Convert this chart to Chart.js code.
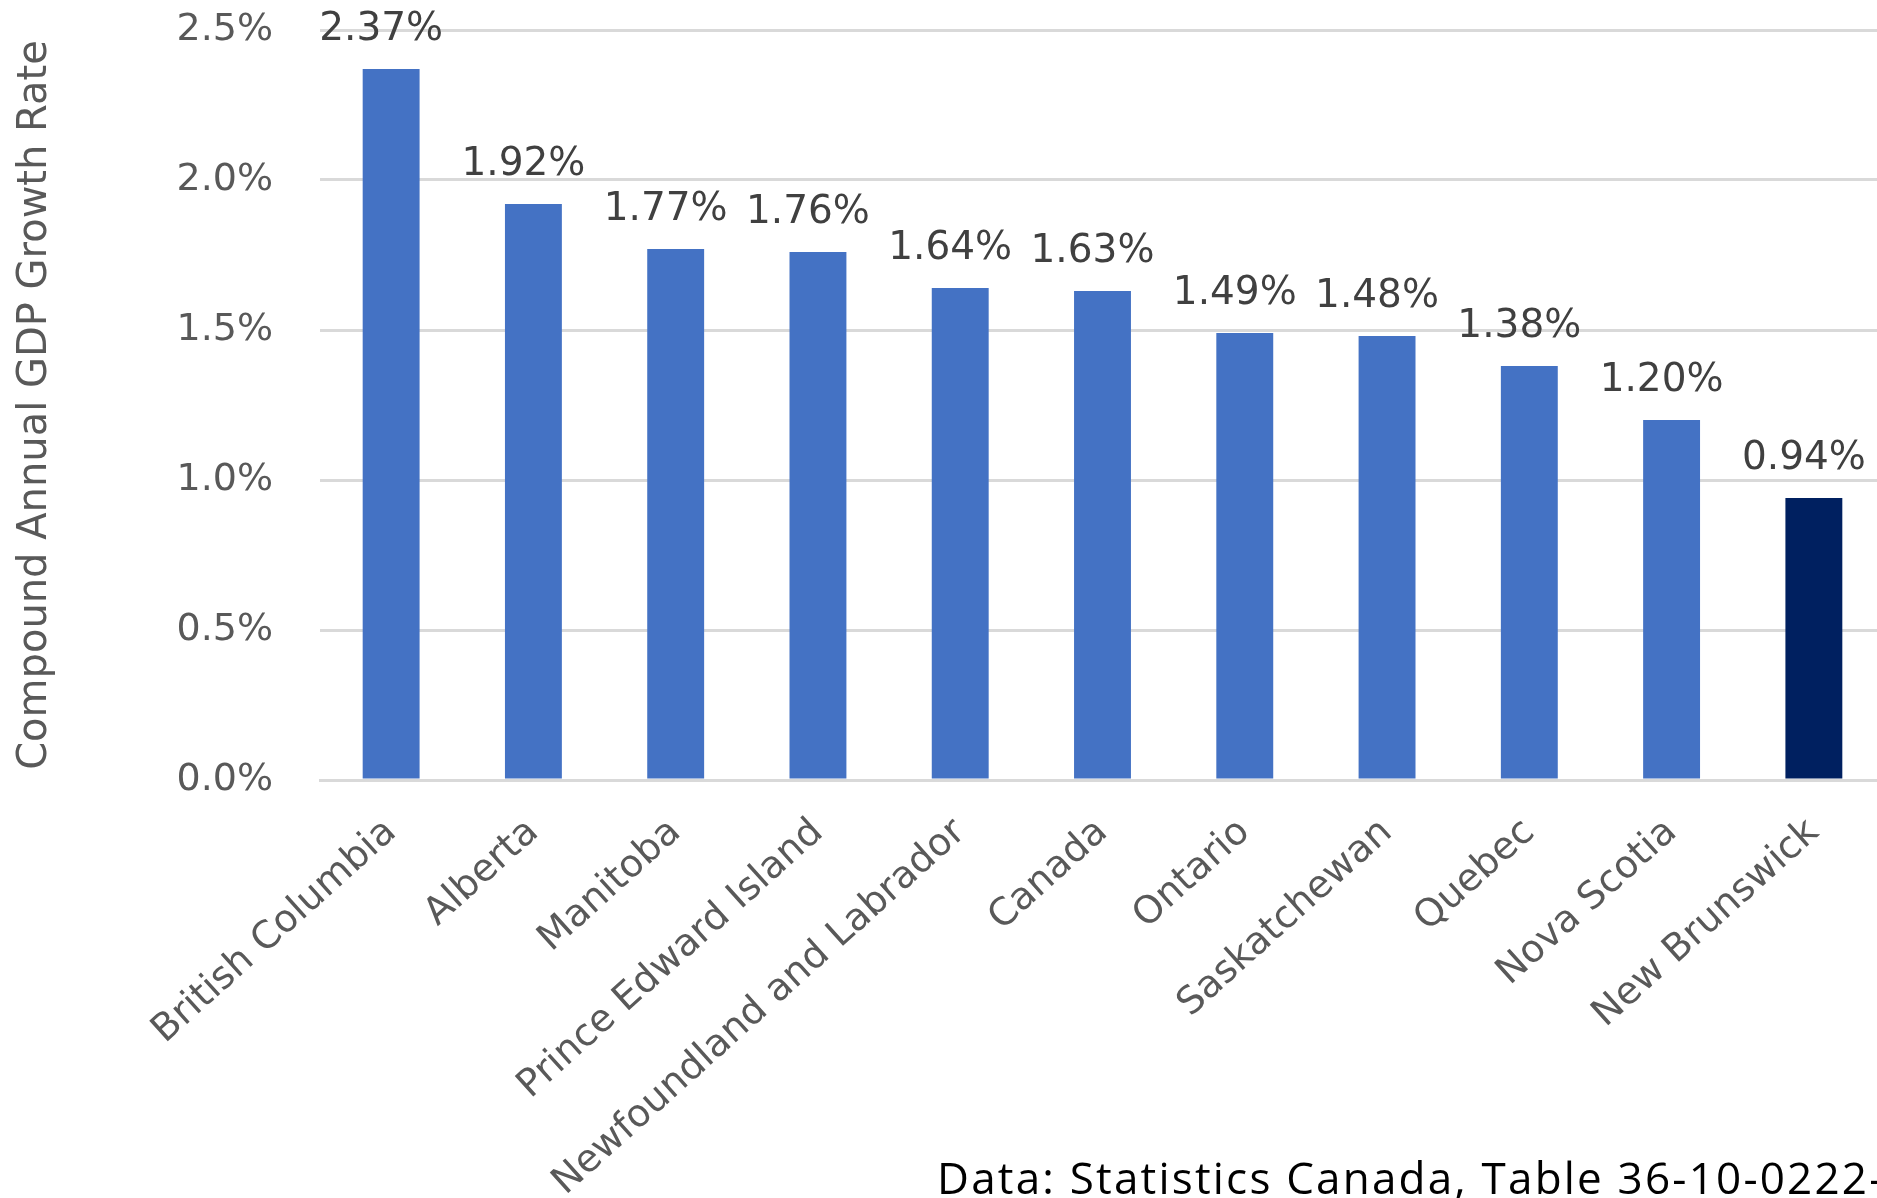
<!DOCTYPE html>
<html>
<head>
<meta charset="utf-8">
<script src="https://cdn.jsdelivr.net/npm/chart.js@4"></script>
<style>
  html, body { margin: 0; padding: 0; background: #fff; overflow: hidden; }
  #wrap { position: relative; width: 1890px; height: 1198px; }
  #source {
    position: absolute; left: 937px; top: 1155px;
    font-family: "Open Sans", sans-serif;
    font-size: 44px; letter-spacing: 2.2px; line-height: 1; color: #000; white-space: nowrap;
  }
</style>
</head>
<body>
<div id="wrap">
  <canvas id="gdpChart"></canvas>
  <div id="source">Data: Statistics Canada, Table 36-10-0222-01</div>
</div>
<script>
const regions = ["British Columbia", "Alberta", "Manitoba", "Prince Edward Island", "Newfoundland and Labrador",
                 "Canada", "Ontario", "Saskatchewan", "Quebec", "Nova Scotia", "New Brunswick"];
const growthRates = [2.37, 1.92, 1.77, 1.76, 1.64, 1.63, 1.49, 1.48, 1.38, 1.20, 0.94];
const yTicks = [0, 0.5, 1.0, 1.5, 2.0, 2.5];
const highlighted = "New Brunswick";

const FONT = "'DejaVu Sans', sans-serif";

// draws the value above each bar
const barLabels = {
    id: "barLabels",
    afterDatasetsDraw(chart) {
        const ctx = chart.ctx;
        const meta = chart.getDatasetMeta(0);
        ctx.save();
        ctx.font = "39px " + FONT;
        ctx.fillStyle = "#404040";
        ctx.textAlign = "center";
        ctx.textBaseline = "alphabetic";
        meta.data.forEach((bar, i) => {
            ctx.fillText(growthRates[i].toFixed(2) + "%", bar.x - 10, bar.y - 29);
        });
        ctx.restore();
    }
};

new Chart(document.getElementById("gdpChart"), {
    type: "bar",
    data: {
        labels: regions,
        datasets: [{
            data: growthRates,
            backgroundColor: regions.map(r => r === highlighted ? "#002060" : "#4472C4"),
            barPercentage: 0.4,
            categoryPercentage: 1.0
        }]
    },
    options: {
        responsive: true,
        maintainAspectRatio: false,
        animation: false,
        layout: { padding: { top: 30, right: 5, bottom: 0, left: 0 } },
        plugins: { legend: { display: false }, tooltip: { enabled: false } },
        scales: {
            x: {
                grid: { display: false, drawTicks: false },
                border: { color: "#d9d9d9", width: 3 },
                ticks: {
                    autoSkip: false, minRotation: 42, maxRotation: 42,
                    padding: 30, color: "#595959",
                    font: { family: FONT, size: 38 }
                },
                afterFit(scale) { scale.height = 418; scale.paddingLeft = 0; scale.paddingRight = 0; }
            },
            y: {
                min: 0, max: 2.5,
                afterBuildTicks(scale) { scale.ticks = yTicks.map(v => ({ value: v })); },
                grid: { color: "#d9d9d9", lineWidth: 3, drawTicks: false },
                border: { display: false },
                ticks: {
                    padding: 47, color: "#595959",
                    font: { family: FONT, size: 38 },
                    callback: v => v.toFixed(1) + "%"
                },
                title: {
                    display: true, text: "Compound Annual GDP Growth Rate",
                    color: "#595959", padding: { top: 12, bottom: 0 },
                    font: { family: FONT, size: 40, weight: "normal" }
                },
                afterFit(scale) { scale.width = 320; scale.paddingTop = 0; scale.paddingBottom = 0; }
            }
        }
    },
    plugins: [barLabels]
});
</script>
</body>
</html>
